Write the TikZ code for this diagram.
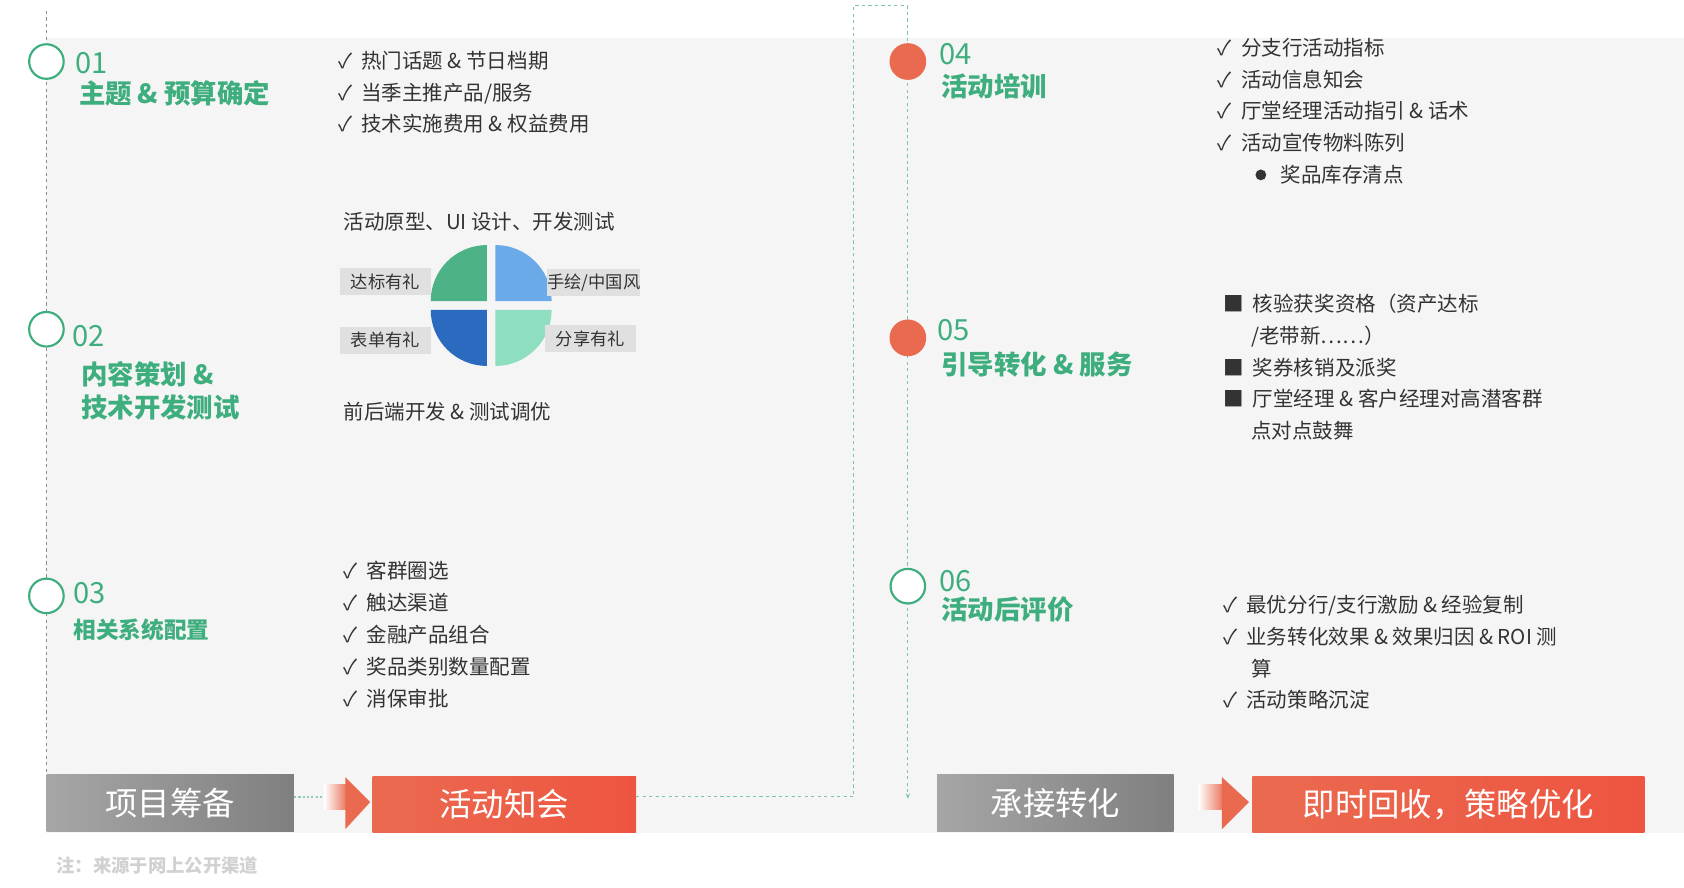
\documentclass[tikz,border=0pt]{standalone}
\usepackage{fontspec}
\setmainfont{Noto Sans CJK SC}
\usetikzlibrary{arrows.meta}
\definecolor{gr}{HTML}{3FAE7E}
\definecolor{org}{HTML}{EA6A50}
\definecolor{txt}{HTML}{333333}
\definecolor{pa}{HTML}{4DB386}
\definecolor{pb}{HTML}{6AAAE8}
\definecolor{pcc}{HTML}{2A6BBF}
\definecolor{pd}{HTML}{8DDFC0}
\tikzset{
 num/.style={anchor=west,text=gr,font=\fontsize{27}{27}\selectfont,inner sep=0},
 ttl/.style={anchor=north west,text=gr,font=\fontsize{24.5}{30}\selectfont\bfseries,align=left,inner sep=0},
 lst/.style={anchor=north west,text=txt,font=\fontsize{19}{29.5}\selectfont,align=left,inner sep=0},
 ocirc/.style={circle,draw=gr,line width=2pt,fill=white,minimum size=32pt,inner sep=0},
 fcirc/.style={circle,fill=org,minimum size=34pt,inner sep=0},
 gbox/.style={minimum width=229pt,minimum height=53pt,text=white,font=\fontsize{30}{30}\selectfont,inner sep=0},
 obox/.style={minimum height=52pt,text=white,font=\fontsize{30}{30}\selectfont,inner sep=0},
 plab/.style={fill=black!12,text=txt,font=\fontsize{16}{16}\selectfont,minimum width=85pt,minimum height=25pt,inner sep=0},
 dl/.style={draw=gr!70,dashed,line width=0.8pt}
}
\begin{document}
\begin{tikzpicture}[x=1pt,y=-1pt]
\useasboundingbox (0,0) rectangle (1560,822);
\fill[black!4] (43,35) rectangle (1560,772);
\draw[black!45,dashed,line width=0.7pt] (43,10) -- (43,715);
\coordinate (t1) at (791,5); \coordinate (t2) at (841,5);
\node[gbox,left color=black!35,right color=black!50,anchor=north west] (b1) at (43,717) {项目筹备};
\node[obox,minimum width=244pt,left color=org,right color=org!80!red,anchor=north west] (b2) at (345,719) {活动知会};
\node[gbox,minimum width=219pt,left color=black!35,right color=black!50,anchor=north west] (b3) at (868,717) {承接转化};
\node[obox,minimum width=363pt,left color=org,right color=org!80!red,anchor=north west] (b4) at (1160,719) {即时回收，策略优化};
\draw[gr!60,dotted,line width=2pt] (b1.east|-0,738) -- (300,738);
\fill[left color=white,right color=org] (300,727) rectangle (323,750);
\fill[org] (320,720) -- (343,743) -- (320,768) -- cycle;
\fill[left color=white,right color=org] (1110,727) rectangle (1135,750);
\fill[org] (1132,720) -- (1157,743) -- (1132,768) -- cycle;
\draw[dl] (b2.east|-0,738) -- (791,738) -- (t1) -- (t2);
\draw[dl,-{Stealth[length=5pt]}] (t2) -- (841,740);
\node[ocirc] (c1) at (43,57) {};
\node[ocirc] (c2) at (43,305) {};
\node[ocirc] (c3) at (43,552) {};
\node[fcirc] (c4) at (841,57) {};
\node[fcirc] (c5) at (841,313) {};
\node[ocirc] (c6) at (841,543) {};
\node[num] (n1) at (70,58) {01};
\node[ttl] (t01) at (73,74) {主题 \& 预算确定};
\node[num] (n2) at (67,311) {02};
\node[ttl] (t02) at (75,335) {内容策划 \&\\技术开发测试};
\node[num] (n3) at (68,549) {03};
\node[ttl,font=\fontsize{21}{24}\selectfont\bfseries] (t03) at (68,573) {相关系统配置};
\node[num] (n4) at (870,50) {04};
\node[ttl] (t04) at (872,68) {活动培训};
\node[num] (n5) at (868,306) {05};
\node[ttl] (t05) at (872,326) {引导转化 \& 服务};
\node[num] (n6) at (870,538) {06};
\node[ttl] (t06) at (872,553) {活动后评价};
\node[lst] (l1) at (313,47) {✓\ \ 热门话题 \& 节日档期\\✓\ \ 当季主推产品/服务\\✓\ \ 技术实施费用 \& 权益费用};
\node[lst] (l2) at (318,196) {活动原型、UI 设计、开发测试};
\node[lst] (l3) at (318,372) {前后端开发 \& 测试调优};
\node[lst] (l4) at (318,520) {✓\ \ 客群圈选\\✓\ \ 触达渠道\\✓\ \ 金融产品组合\\✓\ \ 奖品类别数量配置\\✓\ \ 消保审批};
\node[lst] (l5) at (1128,35) {✓\ \ 分支行活动指标\\✓\ \ 活动信息知会\\✓\ \ 厅堂经理活动指引 \& 话术\\✓\ \ 活动宣传物料陈列\\\hspace*{58pt}奖品库存清点};
\fill[txt] (1168,162) circle (5);
\node[lst] (l6) at (1133,272) {■\ \ 核验获奖资格（资产达标\\\hspace*{26pt}/老带新……）\\■\ \ 奖券核销及派奖\\■\ \ 厅堂经理 \& 客户经理对高潜客群\\\hspace*{26pt}点对点鼓舞};
\node[lst] (l7) at (1133,551) {✓\ \ 最优分行/支行激励 \& 经验复制\\✓\ \ 业务转化效果 \& 效果归因 \& ROI 测\\\hspace*{26pt}算\\✓\ \ 活动策略沉淀};
\coordinate (pc) at (455,283);
\fill[pa] ([shift={(-4,-4)}]pc) -- ++(-52,0) arc[start angle=180,end angle=270,radius=52] -- cycle;
\fill[pb] ([shift={(4,-4)}]pc) -- ++(0,-52) arc[start angle=270,end angle=360,radius=52] -- cycle;
\fill[pcc] ([shift={(-4,4)}]pc) -- ++(-52,0) arc[start angle=180,end angle=90,radius=52] -- cycle;
\fill[pd] ([shift={(4,4)}]pc) -- ++(0,52) arc[start angle=90,end angle=0,radius=52] -- cycle;
\node[plab] (p1) at (357,261) {达标有礼};
\node[plab] (p2) at (550,262) {手绘/中国风};
\node[plab] (p3) at (357,315) {表单有礼};
\node[plab] (p4) at (547,314) {分享有礼};
\node[anchor=west,text=black!18,font=\fontsize{17}{17}\selectfont\bfseries,inner sep=0] (note) at (52,802) {注：来源于网上公开渠道};
\end{tikzpicture}
\end{document}
